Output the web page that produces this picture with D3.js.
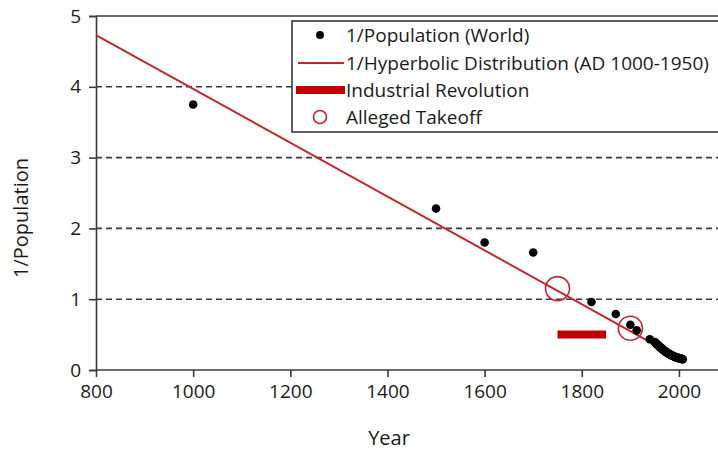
<!DOCTYPE html>
<html><head><meta charset="utf-8">
<script src="https://cdn.jsdelivr.net/npm/d3@7"></script>
<style>body{margin:0;background:#fff}svg{display:block}text{font-family:"Open Sans",sans-serif;fill:#1a1a1a}</style>
</head><body><svg id="c" width="718" height="451"></svg>
<script>
// ---- data ----
const popYears = [1000,1500,1600,1700,1820,1870,1900,1913,1940,
 1950,1951,1952,1953,1954,1955,1956,1957,1958,1959,1960,1961,1962,1963,1964,1965,1966,1967,1968,1969,
 1970,1971,1972,1973,1974,1975,1976,1977,1978,1979,1980,1981,1982,1983,1984,1985,1986,1987,1988,1989,
 1990,1991,1992,1993,1994,1995,1996,1997,1998,1999,2000,2001,2002,2003,2004,2005,2006,2007,2008];
const popInv = [3.75,2.28,1.80,1.66,0.96,0.79,0.64,0.56,0.435,
 0.396,0.389,0.382,0.375,0.368,0.362,0.355,0.348,0.342,0.336,0.330,0.326,0.320,0.313,0.307,0.300,0.294,0.288,0.282,0.277,
 0.271,0.265,0.260,0.255,0.250,0.246,0.242,0.238,0.234,0.230,0.226,0.222,0.218,0.214,0.211,0.207,0.204,0.201,0.197,0.194,
 0.191,0.188,0.185,0.183,0.180,0.178,0.175,0.173,0.171,0.168,0.166,0.164,0.162,0.160,0.158,0.157,0.155,0.153,0.151];
const hypYears = [800, 1950];
const hypValues = [4.73, 0.36];
const industrialYears = [1750, 1850];
const industrialValue = 0.5;
const takeoffYears = [1750, 1900];
const takeoffValues = [1.15, 0.59];
const xTicks = [800,1000,1200,1400,1600,1800,2000];
const yTicks = [0,1,2,3,4,5];
const legendLabels = ["1/Population (World)","1/Hyperbolic Distribution (AD 1000-1950)","Industrial Revolution","Alleged Takeoff"];

// ---- chart ----
const svg = d3.select("#c");
const red = "#c0282d", dark = "#3a3a3a";
const x = d3.scaleLinear().domain([800,2080]).range([96,717.8]);
const y = d3.scaleLinear().domain([0,5]).range([370,16]);

// gridlines
svg.append("g").selectAll("line").data(yTicks.filter(d=>d>0&&d<5)).join("line")
  .attr("x1",x(800)).attr("x2",718).attr("y1",d=>y(d)).attr("y2",d=>y(d))
  .attr("stroke",dark).attr("stroke-width",1.6).attr("stroke-dasharray","6,4");
// top border
svg.append("line").attr("x1",x(800)).attr("x2",718).attr("y1",y(5)).attr("y2",y(5))
  .attr("stroke",dark).attr("stroke-width",1.6);

// axes
const xAxis = svg.append("g").attr("transform",`translate(0,${y(0)})`)
  .call(d3.axisBottom(x).tickValues(xTicks).tickFormat(d3.format("d")).tickSize(7).tickPadding(8));
const yAxis = svg.append("g").attr("transform",`translate(${x(800)},0)`)
  .call(d3.axisLeft(y).tickValues(yTicks).tickFormat(d3.format("d")).tickSize(7).tickPadding(8));
[xAxis,yAxis].forEach(g=>{
  g.select(".domain").attr("stroke",dark).attr("stroke-width",1.6);
  g.selectAll(".tick line").attr("stroke",dark).attr("stroke-width",1.6);
  g.selectAll(".tick text").attr("font-size",19).attr("fill","#1a1a1a").style("font-family",'"Open Sans",sans-serif');
});
xAxis.select(".domain").attr("d",`M${x(800)},0H718`);

// axis titles
svg.append("text").attr("x",389).attr("y",445).attr("text-anchor","middle").attr("font-size",20).text("Year");
svg.append("text").attr("transform",`translate(28,${218}) rotate(-90)`).attr("text-anchor","middle").attr("font-size",20).text("1/Population");

// hyperbolic line
svg.append("line").attr("x1",x(hypYears[0])).attr("y1",y(hypValues[0]))
  .attr("x2",x(hypYears[1])).attr("y2",y(hypValues[1]))
  .attr("stroke",red).attr("stroke-width",2);

// industrial revolution bar
svg.append("line").attr("x1",x(industrialYears[0])).attr("x2",x(industrialYears[1]))
  .attr("y1",y(industrialValue)).attr("y2",y(industrialValue))
  .attr("stroke","#c00000").attr("stroke-width",8);

// takeoff circles
svg.append("g").selectAll("circle").data(takeoffYears).join("circle")
  .attr("cx",d=>x(d)).attr("cy",(d,i)=>y(takeoffValues[i])).attr("r",12)
  .attr("fill","none").attr("stroke",red).attr("stroke-width",1.6);

// population points
svg.append("g").selectAll("circle").data(popYears).join("circle")
  .attr("cx",d=>x(d)).attr("cy",(d,i)=>y(popInv[i])).attr("r",4.3).attr("fill","#000");

// legend
const lg = svg.append("g");
lg.append("rect").attr("x",292).attr("y",21).attr("width",440).attr("height",111)
  .attr("fill","#fff").attr("stroke",dark).attr("stroke-width",1.6);
const rowY = [35,63,90,117];
lg.selectAll("text").data(legendLabels).join("text")
  .attr("x",346).attr("y",(d,i)=>rowY[i]).attr("dy","0.35em").attr("font-size",19).text(d=>d);
lg.append("circle").attr("cx",320).attr("cy",rowY[0]).attr("r",4).attr("fill","#000");
lg.append("line").attr("x1",298).attr("x2",344).attr("y1",rowY[1]).attr("y2",rowY[1]).attr("stroke",red).attr("stroke-width",2);
lg.append("line").attr("x1",296).attr("x2",345).attr("y1",rowY[2]).attr("y2",rowY[2]).attr("stroke","#c00000").attr("stroke-width",8);
lg.append("circle").attr("cx",320).attr("cy",rowY[3]).attr("r",6.5).attr("fill","none").attr("stroke",red).attr("stroke-width",1.6);
</script></body></html>
